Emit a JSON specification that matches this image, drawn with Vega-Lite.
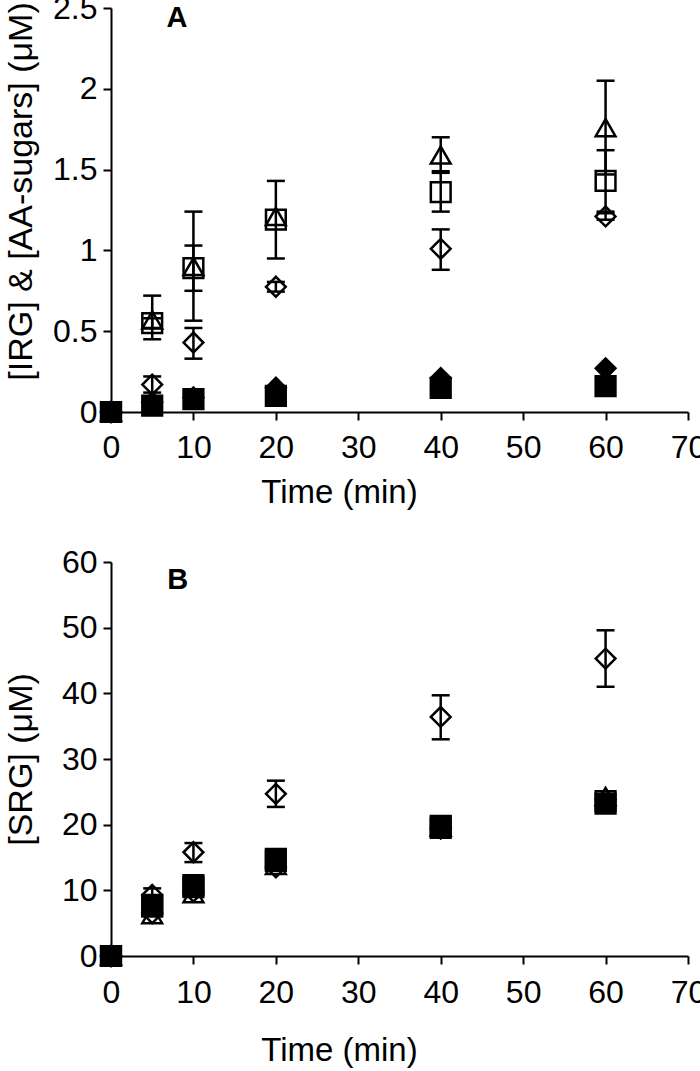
{
  "$schema": "https://vega.github.io/schema/vega-lite/v6.json",
  "padding": {"left": 4, "top": -8, "right": 5, "bottom": 5},
  "background": "white",
  "bounds": "flush",
  "spacing": 150,
  "config": {
    "font": "Liberation Sans",
    "view": {"stroke": null},
    "axis": {
      "domainColor": "black", "domainWidth": 2, "tickColor": "black", "tickWidth": 2, "tickSize": 8,
      "grid": false, "labelColor": "black", "titleColor": "black",
      "labelFont": "Liberation Sans", "titleFont": "Liberation Sans",
      "labelFontSize": 32, "titleFontSize": 33, "titleFontWeight": "normal", "labelFlush": false
    }
  },
  "datasets": {
    "A": [
      {"t": 0, "s": "fd", "v": 0}, {"t": 0, "s": "fs", "v": 0}, {"t": 0, "s": "od", "v": 0}, {"t": 0, "s": "os", "v": 0}, {"t": 0, "s": "ot", "v": 0},
      {"t": 5, "s": "fd", "v": 0.06}, {"t": 5, "s": "fs", "v": 0.04}, {"t": 5, "s": "od", "v": 0.17}, {"t": 5, "s": "os", "v": 0.55}, {"t": 5, "s": "ot", "v": 0.57},
      {"t": 10, "s": "fd", "v": 0.09}, {"t": 10, "s": "fs", "v": 0.08}, {"t": 10, "s": "od", "v": 0.43}, {"t": 10, "s": "os", "v": 0.89}, {"t": 10, "s": "ot", "v": 0.9},
      {"t": 20, "s": "fd", "v": 0.15}, {"t": 20, "s": "fs", "v": 0.1}, {"t": 20, "s": "od", "v": 0.775}, {"t": 20, "s": "os", "v": 1.19}, {"t": 20, "s": "ot", "v": 1.21},
      {"t": 40, "s": "fd", "v": 0.21}, {"t": 40, "s": "fs", "v": 0.15}, {"t": 40, "s": "od", "v": 1.01}, {"t": 40, "s": "os", "v": 1.36}, {"t": 40, "s": "ot", "v": 1.59},
      {"t": 60, "s": "fd", "v": 0.27}, {"t": 60, "s": "fs", "v": 0.16}, {"t": 60, "s": "od", "v": 1.21}, {"t": 60, "s": "os", "v": 1.43}, {"t": 60, "s": "ot", "v": 1.76}
    ],
    "Aerr": [
      {"t": 5, "s": "od", "lo": 0.12, "hi": 0.22}, {"t": 5, "s": "os", "lo": 0.52, "hi": 0.58}, {"t": 5, "s": "ot", "lo": 0.45, "hi": 0.72},
      {"t": 10, "s": "od", "lo": 0.33, "hi": 0.52}, {"t": 10, "s": "os", "lo": 0.75, "hi": 1.03}, {"t": 10, "s": "ot", "lo": 0.565, "hi": 1.24},
      {"t": 20, "s": "od", "lo": 0.745, "hi": 0.805}, {"t": 20, "s": "os", "lo": 0.95, "hi": 1.43},
      {"t": 40, "s": "od", "lo": 0.88, "hi": 1.13}, {"t": 40, "s": "os", "lo": 1.24, "hi": 1.49}, {"t": 40, "s": "ot", "lo": 1.48, "hi": 1.7},
      {"t": 60, "s": "od", "lo": 1.19, "hi": 1.23}, {"t": 60, "s": "os", "lo": 1.24, "hi": 1.62}, {"t": 60, "s": "ot", "lo": 1.47, "hi": 2.05}
    ],
    "B": [
      {"t": 0, "s": "ft", "v": 0}, {"t": 0, "s": "fs", "v": 0}, {"t": 0, "s": "od", "v": 0}, {"t": 0, "s": "os", "v": 0}, {"t": 0, "s": "ot", "v": 0},
      {"t": 5, "s": "ft", "v": 6.5}, {"t": 5, "s": "fs", "v": 7.5}, {"t": 5, "s": "od", "v": 9.3}, {"t": 5, "s": "os", "v": 7.8}, {"t": 5, "s": "ot", "v": 6.3},
      {"t": 10, "s": "ft", "v": 9.8}, {"t": 10, "s": "fs", "v": 10.5}, {"t": 10, "s": "od", "v": 15.8}, {"t": 10, "s": "os", "v": 10.8}, {"t": 10, "s": "ot", "v": 9.5},
      {"t": 20, "s": "ft", "v": 13.5}, {"t": 20, "s": "fs", "v": 14.5}, {"t": 20, "s": "od", "v": 24.7}, {"t": 20, "s": "os", "v": 14.8}, {"t": 20, "s": "ot", "v": 13.8},
      {"t": 40, "s": "ft", "v": 19.4}, {"t": 40, "s": "fs", "v": 19.5}, {"t": 40, "s": "od", "v": 36.4}, {"t": 40, "s": "os", "v": 19.8}, {"t": 40, "s": "ot", "v": 19.6},
      {"t": 60, "s": "ft", "v": 23.8}, {"t": 60, "s": "fs", "v": 23.2}, {"t": 60, "s": "od", "v": 45.3}, {"t": 60, "s": "os", "v": 23.6}, {"t": 60, "s": "ot", "v": 24.3}
    ],
    "Berr": [
      {"t": 5, "s": "od", "lo": 8.5, "hi": 10.3},
      {"t": 10, "s": "od", "lo": 14.3, "hi": 17.2},
      {"t": 20, "s": "od", "lo": 22.7, "hi": 26.7},
      {"t": 40, "s": "od", "lo": 33.0, "hi": 39.7},
      {"t": 60, "s": "od", "lo": 41.0, "hi": 49.6}
    ],
    "Alab": [{"t": 8, "v": 2.44, "lab": "A"}],
    "Blab": [{"t": 8.1, "v": 57.3, "lab": "B"}]
  },
  "vconcat": [
    {
      "width": 577, "height": 404,
      "layer": [
        {
          "data": {"name": "Aerr"},
          "mark": {"type": "rule", "color": "black", "strokeWidth": 2.5},
          "encoding": {
            "x": {"field": "t", "type": "quantitative", "scale": {"domain": [0, 70], "nice": false}, "axis": {"values": [0, 10, 20, 30, 40, 50, 60, 70], "title": "Time (min)", "labelPadding": 12, "titlePadding": 13, "titleX": 228}},
            "y": {"field": "lo", "type": "quantitative", "scale": {"domain": [0, 2.5], "nice": false}, "axis": {"values": [0, 0.5, 1, 1.5, 2, 2.5], "format": "~g", "title": "[IRG] & [AA-sugars] (μM)", "titleFontSize": 34, "labelPadding": 6, "titlePadding": 13, "minExtent": 60, "maxExtent": 60, "titleY": 183}},
            "y2": {"field": "hi"}
          }
        },
        {
          "data": {"name": "Aerr"},
          "mark": {"type": "tick", "orient": "horizontal", "color": "black", "size": 18, "thickness": 2.5, "opacity": 1},
          "encoding": {
            "x": {"field": "t", "type": "quantitative", "title": "Time (min)"},
            "y": {"field": "lo", "type": "quantitative", "title": "[IRG] & [AA-sugars] (μM)"}
          }
        },
        {
          "data": {"name": "Aerr"},
          "mark": {"type": "tick", "orient": "horizontal", "color": "black", "size": 18, "thickness": 2.5, "opacity": 1},
          "encoding": {
            "x": {"field": "t", "type": "quantitative", "title": "Time (min)"},
            "y": {"field": "hi", "type": "quantitative", "title": "[IRG] & [AA-sugars] (μM)"}
          }
        },
        {
          "data": {"name": "A"},
          "mark": {"type": "point", "filled": true, "size": 390, "strokeWidth": 2.5, "opacity": 1, "stroke": "black"},
          "encoding": {
            "x": {"field": "t", "type": "quantitative", "title": "Time (min)"},
            "y": {"field": "v", "type": "quantitative", "title": "[IRG] & [AA-sugars] (μM)"},
            "shape": {"field": "s", "type": "nominal", "scale": {"domain": ["od", "os", "ot", "fd", "fs"], "range": ["diamond", "square", "triangle-up", "diamond", "square"]}, "legend": null},
            "fill": {"field": "s", "type": "nominal", "scale": {"domain": ["od", "os", "ot", "fd", "fs"], "range": ["transparent", "transparent", "transparent", "black", "black"]}, "legend": null}
          }
        },
        {
          "data": {"name": "Alab"},
          "mark": {"type": "text", "fontSize": 29, "fontWeight": "bold", "font": "Liberation Sans", "color": "black"},
          "encoding": {
            "x": {"field": "t", "type": "quantitative", "title": "Time (min)"},
            "y": {"field": "v", "type": "quantitative", "title": "[IRG] & [AA-sugars] (μM)"},
            "text": {"field": "lab"}
          }
        }
      ]
    },
    {
      "width": 577, "height": 394,
      "layer": [
        {
          "data": {"name": "Berr"},
          "mark": {"type": "rule", "color": "black", "strokeWidth": 2.5},
          "encoding": {
            "x": {"field": "t", "type": "quantitative", "scale": {"domain": [0, 70], "nice": false}, "axis": {"values": [0, 10, 20, 30, 40, 50, 60, 70], "title": "Time (min)", "labelPadding": 13, "titlePadding": 26, "titleX": 228}},
            "y": {"field": "lo", "type": "quantitative", "scale": {"domain": [0, 60], "nice": false}, "axis": {"values": [0, 10, 20, 30, 40, 50, 60], "format": "~g", "title": "[SRG] (μM)", "titleFontSize": 34, "labelPadding": 6, "titlePadding": 13, "minExtent": 60, "maxExtent": 60}},
            "y2": {"field": "hi"}
          }
        },
        {
          "data": {"name": "Berr"},
          "mark": {"type": "tick", "orient": "horizontal", "color": "black", "size": 18, "thickness": 2.5, "opacity": 1},
          "encoding": {
            "x": {"field": "t", "type": "quantitative", "title": "Time (min)"},
            "y": {"field": "lo", "type": "quantitative", "title": "[SRG] (μM)"}
          }
        },
        {
          "data": {"name": "Berr"},
          "mark": {"type": "tick", "orient": "horizontal", "color": "black", "size": 18, "thickness": 2.5, "opacity": 1},
          "encoding": {
            "x": {"field": "t", "type": "quantitative", "title": "Time (min)"},
            "y": {"field": "hi", "type": "quantitative", "title": "[SRG] (μM)"}
          }
        },
        {
          "data": {"name": "B"},
          "mark": {"type": "point", "filled": true, "size": 390, "strokeWidth": 2.5, "opacity": 1, "stroke": "black"},
          "encoding": {
            "x": {"field": "t", "type": "quantitative", "title": "Time (min)"},
            "y": {"field": "v", "type": "quantitative", "title": "[SRG] (μM)"},
            "shape": {"field": "s", "type": "nominal", "scale": {"domain": ["od", "os", "ot", "ft", "fs"], "range": ["diamond", "square", "triangle-up", "triangle-up", "square"]}, "legend": null},
            "fill": {"field": "s", "type": "nominal", "scale": {"domain": ["od", "os", "ot", "ft", "fs"], "range": ["transparent", "transparent", "transparent", "black", "black"]}, "legend": null}
          }
        },
        {
          "data": {"name": "Blab"},
          "mark": {"type": "text", "fontSize": 29, "fontWeight": "bold", "font": "Liberation Sans", "color": "black"},
          "encoding": {
            "x": {"field": "t", "type": "quantitative", "title": "Time (min)"},
            "y": {"field": "v", "type": "quantitative", "title": "[SRG] (μM)"},
            "text": {"field": "lab"}
          }
        }
      ]
    }
  ]
}
